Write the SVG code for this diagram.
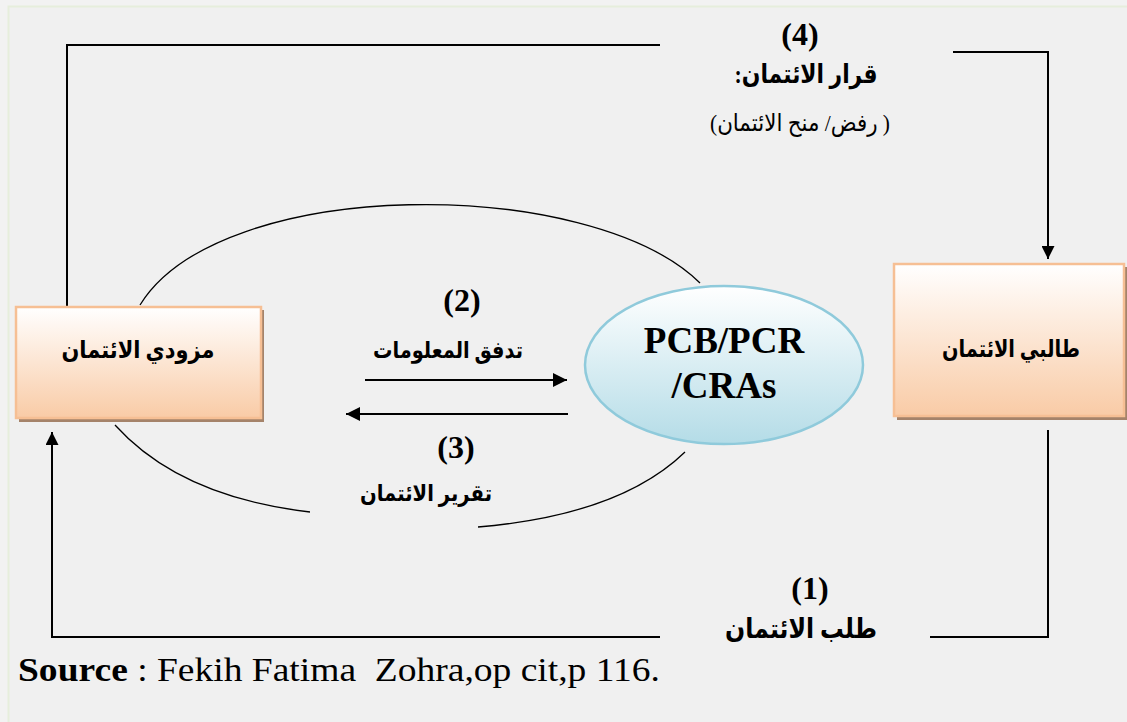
<svg xmlns="http://www.w3.org/2000/svg" width="1127" height="722" viewBox="0 0 1127 722">
  <defs>
    <linearGradient id="peach" x1="0" y1="0" x2="0" y2="1">
      <stop offset="0" stop-color="#ffffff"/>
      <stop offset="1" stop-color="#f9cba6"/>
    </linearGradient>
    <linearGradient id="sky" x1="0" y1="0" x2="0" y2="1">
      <stop offset="0" stop-color="#ffffff"/>
      <stop offset="1" stop-color="#b4dce7"/>
    </linearGradient>
    <marker id="tri" viewBox="0 0 10 10" refX="10" refY="5" markerWidth="13" markerHeight="13" markerUnits="userSpaceOnUse" orient="auto">
      <path d="M0,0 L10,5 L0,10 Z" fill="#000"/>
    </marker>
    <marker id="tri2" viewBox="0 0 10 10" refX="10" refY="5" markerWidth="14" markerHeight="14" markerUnits="userSpaceOnUse" orient="auto">
      <path d="M0,0 L10,5 L0,10 Z" fill="#000"/>
    </marker>
  </defs>
  <style>
    .line { fill: none; stroke: #000; stroke-width: 2; }
    .arc { fill: none; stroke: #000; stroke-width: 1.3; }
    .box { fill: url(#peach); stroke: #f6bf94; stroke-width: 2.5; }
    .shadow { fill: #a5836a; }
    .ar { font-family: "Liberation Serif", "DejaVu Sans", serif; font-weight: bold; fill: #000; text-anchor: middle; direction: rtl; unicode-bidi: embed; }
    .ar.plain { font-weight: normal; }
    .num { font-family: "Liberation Serif", serif; font-weight: bold; font-size: 32px; fill: #000; text-anchor: middle; }
  </style>

  <!-- page background -->
  <rect x="0" y="0" width="1127" height="722" fill="#f2f2f2"/>
  <rect x="8.5" y="6.5" width="1125" height="720" fill="#f0f0f0" stroke="#e6eedc" stroke-width="2"/>

  <!-- connectors -->
  <g id="connectors">
    <!-- (4) credit decision: providers to applicants -->
    <polyline class="line" points="67,307 67,45 660,45"/>
    <polyline class="line" points="953,52 1048,52 1048,259" marker-end="url(#tri)"/>
    <!-- (1) credit request: applicants to providers -->
    <polyline class="line" points="1048,430 1048,637 930,637"/>
    <polyline class="line" points="660,637 52,637 52,432" marker-end="url(#tri)"/>
    <!-- (2) information flow / (3) credit report -->
    <line class="line" x1="365" y1="380" x2="567" y2="380" marker-end="url(#tri2)"/>
    <line class="line" x1="568" y1="414" x2="346" y2="414" marker-end="url(#tri2)"/>
    <!-- loop arcs between providers and bureau -->
    <path class="arc" d="M140,305 C220,175 590,175 700,283"/>
    <path class="arc" d="M115,425 Q180,497 310,512"/>
    <path class="arc" d="M478,527 Q620,515 685,452"/>
  </g>

  <!-- credit providers -->
  <g id="providers">
    <rect class="shadow" x="19" y="310" width="245" height="112"/>
    <rect class="box" x="16" y="307" width="245" height="111"/>
    <text class="ar" x="138" y="358" font-size="24" textLength="153" lengthAdjust="spacingAndGlyphs">مزودي الائتمان</text>
  </g>

  <!-- credit applicants -->
  <g id="applicants">
    <rect class="shadow" x="897" y="267" width="230" height="153"/>
    <rect class="box" x="894" y="264" width="230" height="152"/>
    <text class="ar" x="1011" y="357" font-size="24" textLength="138" lengthAdjust="spacingAndGlyphs">طالبي الائتمان</text>
  </g>

  <!-- credit bureau -->
  <g id="bureau">
    <ellipse cx="724" cy="365" rx="139" ry="79" fill="url(#sky)" stroke="#8fcadb" stroke-width="2.5"/>
    <text x="724" y="353" font-family="Liberation Serif, serif" font-weight="bold" font-size="37" text-anchor="middle">PCB/PCR</text>
    <text x="724" y="398" font-family="Liberation Serif, serif" font-weight="bold" font-size="37" text-anchor="middle">/CRAs</text>
  </g>

  <!-- connector labels -->
  <g id="labels">
    <text class="num" x="800" y="45">(4)</text>
    <text class="ar" x="806" y="83" font-size="26" textLength="143" lengthAdjust="spacingAndGlyphs">قرار الائتمان:</text>
    <text class="ar plain" x="800" y="131" font-size="24" textLength="180" lengthAdjust="spacingAndGlyphs">( رفض/ منح الائتمان)</text>

    <text class="num" x="462" y="311">(2)</text>
    <text class="ar" x="448" y="358" font-size="23" textLength="150" lengthAdjust="spacingAndGlyphs">تدفق المعلومات</text>

    <text class="num" x="456" y="458">(3)</text>
    <text class="ar" x="426" y="501" font-size="23" textLength="132" lengthAdjust="spacingAndGlyphs">تقرير الائتمان</text>

    <text class="num" x="810" y="599">(1)</text>
    <text class="ar" x="801" y="638" font-size="27" textLength="152" lengthAdjust="spacingAndGlyphs">طلب الائتمان</text>
  </g>

  <!-- source line -->
  <text x="18" y="681" font-family="Liberation Serif, serif" font-size="33" textLength="642" lengthAdjust="spacingAndGlyphs" xml:space="preserve"><tspan font-weight="bold">Source</tspan> : Fekih Fatima  Zohra,op cit,p 116.</text>
</svg>
